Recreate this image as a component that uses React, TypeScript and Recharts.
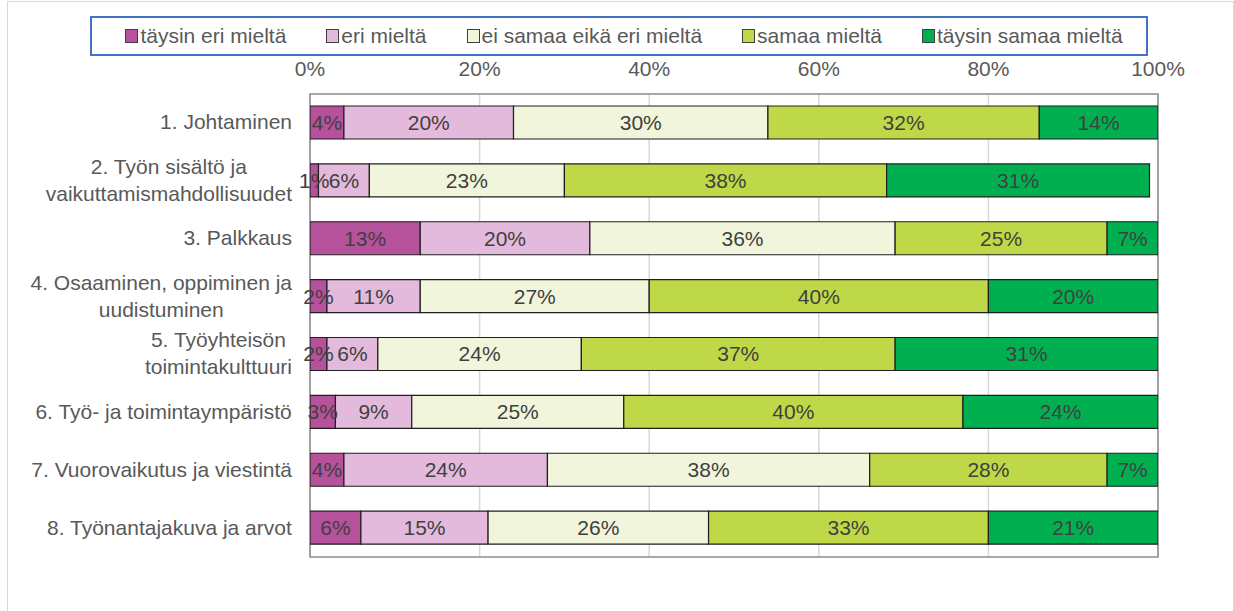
import { BarChart, Bar, XAxis, YAxis, CartesianGrid, Legend, LabelList, ReferenceArea } from "recharts";

const categories = [
  "1. Johtaminen",
  "2. Työn sisältö ja\nvaikuttamismahdollisuudet",
  "3. Palkkaus",
  "4. Osaaminen, oppiminen ja\nuudistuminen",
  "5. Työyhteisön\ntoimintakulttuuri",
  "6. Työ- ja toimintaympäristö",
  "7. Vuorovaikutus ja viestintä",
  "8. Työnantajakuva ja arvot",
];

const stronglyDisagree = [4, 1, 13, 2, 2, 3, 4, 6];
const disagree = [20, 6, 20, 11, 6, 9, 24, 15];
const neutral = [30, 23, 36, 27, 24, 25, 38, 26];
const agree = [32, 38, 25, 40, 37, 40, 28, 33];
const stronglyAgree = [14, 31, 7, 20, 31, 24, 7, 21];

const seriesNames = ["täysin eri mieltä", "eri mieltä", "ei samaa eikä eri mieltä", "samaa mieltä", "täysin samaa mieltä"];
const seriesKeys = ["s1", "s2", "s3", "s4", "s5"];
const seriesColors = ["#b6519c", "#e3badb", "#f0f5db", "#bfd847", "#00b050"];
const xTicks = [0, 20, 40, 60, 80, 100];

const data = categories.map((name, i) => ({
  name,
  s1: stronglyDisagree[i],
  s2: disagree[i],
  s3: neutral[i],
  s4: agree[i],
  s5: stronglyAgree[i],
}));

const FONT = "'Liberation Sans', Arial, sans-serif";
const FS = 21;
const LEGEND_H = 40;

let ctx: CanvasRenderingContext2D | null = null;
const measure = (s: string) => {
  if (!ctx) {
    ctx = document.createElement("canvas").getContext("2d");
  }
  if (!ctx) return s.length * FS * 0.5;
  ctx.font = `${FS}px 'Liberation Sans'`;
  return ctx.measureText(s).width;
};

// two-line labels are centred on each other, the block sits right-aligned
const CategoryTick = (props: any) => {
  const { x, y, payload } = props;
  const lines = String(payload.value).split("\n");
  const w = Math.max(...lines.map(measure));
  const cx = x - w / 2;
  const lh = 27;
  const start = y - ((lines.length - 1) * lh) / 2 - 1;
  return (
    <text x={cx} y={start} textAnchor="middle" fill="#595959" fontSize={FS} fontFamily={FONT}>
      {lines.map((l, i) => (
        <tspan key={i} x={cx} y={start + i * lh} dy="0.36em">
          {l}
        </tspan>
      ))}
    </text>
  );
};

const LegendBox = () => (
  <div
    style={{
      boxSizing: "border-box",
      width: "100%",
      height: LEGEND_H,
      border: "2px solid #4472c4",
      display: "flex",
      alignItems: "center",
      justifyContent: "center",
      gap: 40,
      paddingLeft: 10,
      fontFamily: FONT,
      fontSize: FS,
      color: "#595959",
    }}
  >
    {seriesNames.map((n, i) => (
      <span key={n} style={{ display: "flex", alignItems: "center", whiteSpace: "nowrap" }}>
        <span
          style={{
            display: "inline-block",
            width: 11,
            height: 12,
            background: seriesColors[i],
            border: "1px solid #404040",
            marginRight: 2,
          }}
        />
        {n}
      </span>
    ))}
  </div>
);

export default function App() {
  return (
    <div style={{ position: "absolute", left: 0, top: 0, width: 1234, height: 611, background: "#fff", overflow: "hidden" }}>
      <div
        style={{
          position: "absolute",
          left: 7,
          top: 1,
          width: 1225,
          height: 640,
          border: "1px solid #d9d9d9",
        }}
      />
      <div style={{ position: "absolute", left: 0, top: 0 }}>
        <BarChart
          width={1234}
          height={611}
          data={data}
          layout="vertical"
          margin={{ top: 64, right: 76, bottom: 54 - LEGEND_H, left: 0 }}
          barSize={33}
        >
          <CartesianGrid horizontal={false} stroke="#d9d9d9" strokeWidth={1.5} />
          <XAxis
            type="number"
            orientation="top"
            domain={[0, 100]}
            allowDataOverflow
            ticks={xTicks}
            tickFormatter={(v) => `${v}%`}
            axisLine={false}
            tickLine={false}
            tickMargin={12}
            height={30}
            tick={{ fill: "#595959", fontSize: FS, fontFamily: FONT }}
          />
          <YAxis
            type="category"
            dataKey="name"
            width={310}
            axisLine={false}
            tickLine={false}
            tickMargin={12}
            interval={0}
            tick={<CategoryTick />}
          />
          <ReferenceArea x1={0} x2={100} fill="none" stroke="#8c8c8c" strokeWidth={1.5} />
          <Legend
            verticalAlign="bottom"
            content={<LegendBox />}
            wrapperStyle={{ position: "absolute", left: 90, top: 16, bottom: "auto", width: 1058, height: LEGEND_H }}
          />
          {seriesKeys.map((k, i) => (
            <Bar
              key={k}
              dataKey={k}
              name={seriesNames[i]}
              stackId="a"
              fill={seriesColors[i]}
              stroke="#1f1f1f"
              strokeWidth={1.2}
              isAnimationActive={false}
            >
              <LabelList
                dataKey={k}
                position="center"
                formatter={(v: any) => `${v}%`}
                fill="#404040"
                fontSize={FS}
                fontFamily={FONT}
              />
            </Bar>
          ))}
        </BarChart>
      </div>
    </div>
  );
}
